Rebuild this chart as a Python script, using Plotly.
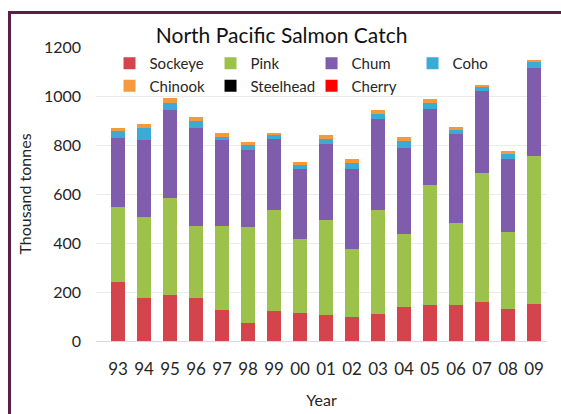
import plotly.graph_objects as go

years = ["93", "94", "95", "96", "97", "98", "99", "00", "01", "02", "03", "04", "05", "06", "07", "08", "09"]
sockeye = [239, 177, 188, 177, 127, 75, 124, 116, 105, 100, 110, 137, 147, 147, 158, 131, 150]
pink = [307, 328, 396, 294, 344, 391, 410, 300, 388, 277, 424, 301, 489, 335, 526, 314, 605]
chum = [281, 315, 359, 397, 348, 313, 292, 287, 310, 326, 374, 351, 313, 362, 335, 296, 358]
coho = [32, 51, 30, 30, 15, 21, 14, 16, 20, 22, 20, 27, 24, 16, 16, 21, 27]
chinook = [12, 14, 18, 16, 14, 14, 10, 11, 17, 16, 15, 18, 14, 12, 9, 12, 8]
steelhead = [0, 0, 0, 0, 0, 0, 0, 0, 0, 0, 0, 0, 0, 0, 0, 0, 0]
cherry = [0, 0, 0, 0, 0, 0, 0, 0, 0, 0, 0, 0, 0, 0, 0, 0, 0]

series = [
    ("Sockeye", sockeye, "#D5434C"),
    ("Pink", pink, "#9CC24B"),
    ("Chum", chum, "#7F5CAC"),
    ("Coho", coho, "#3BAAD5"),
    ("Chinook", chinook, "#F4993E"),
    ("Steelhead", steelhead, "#000000"),
    ("Cherry", cherry, "#FF0000"),
]

FONT = "Lato, 'Open Sans', sans-serif"
TXT = "#262626"

fig = go.Figure()
for name, vals, col in series:
    fig.add_trace(go.Bar(x=years, y=vals, name=name, marker=dict(color=col, line=dict(width=0))))

fig.update_layout(
    barmode="stack",
    bargap=0.47,
    width=561,
    height=414,
    margin=dict(l=96, r=14, t=47, b=73),
    paper_bgcolor="white",
    plot_bgcolor="white",
    font=dict(family=FONT, color=TXT, size=16),
    title=dict(text="North Pacific Salmon Catch", x=0.502, xref="container", xanchor="center",
               y=1 - 36 / 414, yref="container", yanchor="middle",
               font=dict(size=21, family=FONT, color="#111111")),
    legend=dict(orientation="h", x=0.03, y=1.0, xanchor="left", yanchor="top",
                bgcolor="rgba(0,0,0,0)", font=dict(size=15, family=FONT, color=TXT),
                entrywidth=56, entrywidthmode="pixels", itemwidth=30, traceorder="normal"),
    xaxis=dict(range=[-0.85, 16.5], showgrid=False, showline=True, linecolor="#D9D9D9",
               ticks="", tickfont=dict(size=17), ticklabelstandoff=13, automargin=False,
               title=dict(text="Year", font=dict(size=16), standoff=16)),
    yaxis=dict(range=[0, 1200], dtick=200, showgrid=True, gridcolor="#EBEBEB", zeroline=False,
               ticks="", tickfont=dict(size=16), ticklabelstandoff=14, automargin=False,
               title=dict(text="Thousand tonnes", font=dict(size=16), standoff=8)),
    shapes=[
        dict(type="line", xref="paper", yref="paper", x0=-0.1918, x1=-0.1918, y0=1.117, y1=-0.3,
             line=dict(color="#5B1E4B", width=3)),
        dict(type="line", xref="paper", yref="paper", x0=-0.1951, x1=1.05, y0=1.117, y1=1.117,
             line=dict(color="#5B1E4B", width=3)),
    ],
)

fig.write_html("out.html")
